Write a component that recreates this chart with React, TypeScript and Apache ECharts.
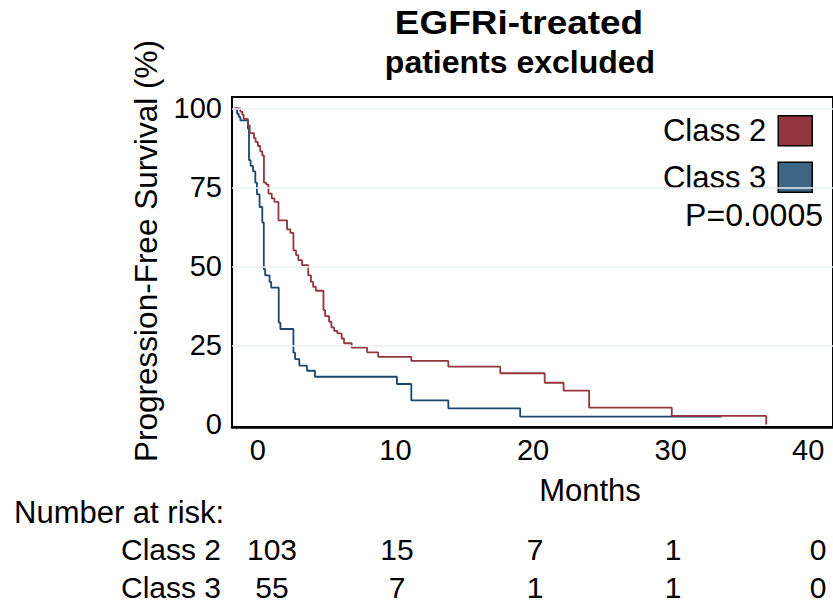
import React, { useEffect, useRef } from "react";
import * as echarts from "echarts";

// Kaplan-Meier steps: time (months) at which the curve drops, and the new survival (%)
const class2Times = [0, 0.41, 0.55, 0.65, 0.96, 1.09, 1.4, 1.52, 1.69, 1.86, 2.01, 2.13, 2.3, 2.46, 2.7, 2.9, 3.19, 3.82, 4.06, 4.28, 4.47, 4.64, 4.91, 5.36, 5.56, 5.72, 5.92, 6.47, 6.59, 6.88, 7.05, 7.25, 7.49, 7.8, 7.97, 8.53, 9.66, 10.46, 12.88, 15.58, 19.37, 22.61, 23.99, 25.85, 31.88, 38.77];
const class2Surv = [100, 99.0, 98.0, 96.7, 94.6, 92.2, 90.6, 89.4, 88.1, 86.4, 85.1, 76.5, 75.9, 73.0, 71.5, 70.4, 64.6, 61.7, 60.6, 55.1, 53.6, 52.0, 50.4, 47.2, 45.1, 43.5, 42.3, 36.2, 34.3, 32.5, 30.7, 29.6, 28.8, 27.2, 25.7, 24.3, 22.8, 21.4, 20.1, 18.3, 16.2, 13.2, 10.7, 5.3, 2.7, 0];
const class3Times = [0, 0.17, 0.29, 0.41, 0.96, 1.04, 1.16, 1.33, 1.5, 1.62, 1.81, 2.01, 2.12, 2.22, 2.54, 2.66, 3.21, 3.33, 4.28, 4.4, 4.71, 5.27, 5.85, 11.83, 12.88, 15.58, 20.82, 35.5];
const class3Surv = [100, 98.3, 97.3, 96.2, 93.6, 83.6, 81.8, 80.1, 76.5, 72.8, 68.8, 63.9, 49.1, 47.2, 45.1, 43.3, 32.2, 30.2, 22.7, 20.7, 18.6, 17.0, 15.1, 12.8, 7.6, 5.1, 2.5, 2.5];

const seriesNames = ["Class 2", "Class 3"];
const xTickLabels = [0, 10, 20, 30, 40];
const yTickLabels = [0, 25, 50, 75, 100];
const gridValues = [25, 50, 75, 100];
const riskClass2 = [103, 15, 7, 1, 0];
const riskClass3 = [55, 7, 1, 1, 0];
const pValueText = "P=0.0005";

const RED = "#93363d";
const BLUE = "#1a476f";
const BLUE_FILL = "#3d6585";
const FONT = "'Liberation Sans', Arial, Helvetica, sans-serif";

export default function App() {
  const ref = useRef<HTMLDivElement>(null);
  useEffect(() => {
    if (!ref.current) return;
    const chart = echarts.init(ref.current, null, { renderer: "svg" });
    const toPairs = (t: number[], s: number[]) => t.map((x, i) => [x, s[i]]);
    const riskCols = [272, 397, 535, 673, 818];
    const riskTexts: any[] = [];
    riskClass2.forEach((v, i) =>
      riskTexts.push({ type: "text", x: riskCols[i], y: 549, style: { text: String(v), fontSize: 30, fontFamily: FONT, fill: "#000", textAlign: "center", textVerticalAlign: "middle" } })
    );
    riskClass3.forEach((v, i) =>
      riskTexts.push({ type: "text", x: riskCols[i], y: 587, style: { text: String(v), fontSize: 30, fontFamily: FONT, fill: "#000", textAlign: "center", textVerticalAlign: "middle" } })
    );
    chart.setOption({
      animation: false,
      backgroundColor: "#fff",
      grid: { left: 232, top: 97, width: 605, height: 330, show: true, borderColor: "#000", borderWidth: 2, containLabel: false },
      xAxis: [
        { type: "value", min: -0.2, max: 43.64, show: false },
        {
          type: "value", min: -1.88, max: 41.8, position: "bottom",
          axisLine: { show: true, lineStyle: { color: "#000", width: 2.5 } },
          axisTick: { show: false },
          splitLine: { show: false },
          axisLabel: { customValues: xTickLabels, fontSize: 29, fontFamily: FONT, color: "#000", margin: 8 },
        },
      ],
      yAxis: {
        type: "value", min: -0.8, max: 103.6,
        axisLine: { show: false }, axisTick: { show: false }, splitLine: { show: false },
        axisLabel: { customValues: yTickLabels, fontSize: 29, fontFamily: FONT, color: "#000", margin: 10, padding: [9, 0, 0, 0] },
      },
      legend: {
        orient: "vertical", right: 15, top: 110, align: "right",
        itemWidth: 34, itemHeight: 30, itemGap: 15, icon: "rect",
        textStyle: { fontSize: 31, fontFamily: FONT, color: "#000", padding: [0, 7, 0, 0] },
        data: [
          { name: seriesNames[0], itemStyle: { color: RED, borderColor: "#000", borderWidth: 1.5 } },
          { name: seriesNames[1], itemStyle: { color: BLUE_FILL, borderColor: "#000", borderWidth: 1.5 } },
        ],
      },
      series: [
        {
          type: "line", name: "grid", data: [], xAxisIndex: 0, z: 1, silent: true,
          markLine: {
            silent: true, symbol: "none", label: { show: false },
            lineStyle: { color: "#e7eef1", width: 1.5, type: "solid" },
            data: gridValues.map((v) => ({ yAxis: v })),
          },
        },
        {
          type: "line", name: seriesNames[1], xAxisIndex: 0, step: "end", showSymbol: false, z: 3,
          data: toPairs(class3Times, class3Surv),
          lineStyle: { color: BLUE, width: 1.8 }, itemStyle: { color: BLUE_FILL },
        },
        {
          type: "line", name: seriesNames[0], xAxisIndex: 0, step: "end", showSymbol: false, z: 4,
          data: toPairs(class2Times, class2Surv),
          lineStyle: { color: RED, width: 1.8 }, itemStyle: { color: RED },
        },
      ],
      graphic: [
        { type: "text", x: 519, y: 22, scaleX: 1.12, style: { text: "EGFRi-treated", fontSize: 33, fontWeight: "bold", fontFamily: FONT, fill: "#000", textAlign: "center", textVerticalAlign: "middle" } },
        { type: "text", x: 520, y: 62, style: { text: "patients excluded", fontSize: 32, fontWeight: "bold", fontFamily: FONT, fill: "#000", textAlign: "center", textVerticalAlign: "middle" } },
        { type: "text", x: 823, y: 215, style: { text: pValueText, fontSize: 32, fontFamily: FONT, fill: "#000", textAlign: "right", textVerticalAlign: "middle" } },
        { type: "text", x: 146, y: 251, rotation: Math.PI / 2, style: { text: "Progression-Free Survival (%)", fontSize: 31.5, fontFamily: FONT, fill: "#000", textAlign: "center", textVerticalAlign: "middle" } },
        { type: "text", x: 590, y: 490, style: { text: "Months", fontSize: 31, fontFamily: FONT, fill: "#000", textAlign: "center", textVerticalAlign: "middle" } },
        { type: "text", x: 14, y: 512, style: { text: "Number at risk:", fontSize: 31, fontFamily: FONT, fill: "#000", textAlign: "left", textVerticalAlign: "middle" } },
        { type: "text", x: 121, y: 549, style: { text: seriesNames[0], fontSize: 30, fontFamily: FONT, fill: "#000", textAlign: "left", textVerticalAlign: "middle" } },
        { type: "text", x: 121, y: 587, style: { text: seriesNames[1], fontSize: 30, fontFamily: FONT, fill: "#000", textAlign: "left", textVerticalAlign: "middle" } },
        ...riskTexts,
      ],
    });
    return () => chart.dispose();
  }, []);
  return <div ref={ref} style={{ width: 833, height: 603, position: "absolute", left: 0, top: 0 }} />;
}
